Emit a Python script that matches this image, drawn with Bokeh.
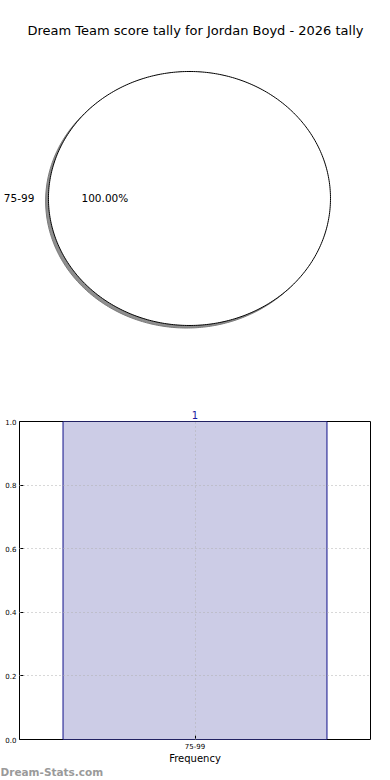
import numpy as np
from bokeh.plotting import figure
from bokeh.layouts import column
from bokeh.models import Range1d, FactorRange, Label, FixedTicker, CustomJSTickFormatter, Title
from bokeh.core.properties import value
from bokeh.embed import file_html
from bokeh.resources import INLINE

# ---- data ----
title_text = "Dream Team score tally for Jordan Boyd - 2026 tally"
categories = ["75-99"]
counts = [1]
y_ticks = [0.0, 0.2, 0.4, 0.6, 0.8, 1.0]
watermark = "Dream-Stats.com"
x_label = "Frequency"

FONT = "DejaVu Sans"

# ---- pie figure (top half) ----
pie = figure(width=390, height=390, output_backend="svg", toolbar_location=None,
             x_range=Range1d(-1.340, 1.4255), y_range=Range1d(-1.512, 1.559),
             min_border=0)
try:
    pie.frame_align = False
except Exception:
    pass
pie.axis.visible = False
pie.grid.visible = False
pie.outline_line_color = None
pie.background_fill_color = "white"
pie.border_fill_color = "white"

total = float(sum(counts))
fracs = [c / total for c in counts]
start = 0.0
for cat, fr in zip(categories, fracs):
    t0 = 2 * np.pi * start
    t1 = 2 * np.pi * (start + fr)
    th = np.linspace(t0, t1, 400)
    xs = list(np.cos(th))
    ys = list(np.sin(th))
    if fr < 1.0:
        xs = [0.0] + xs
        ys = [0.0] + ys
    # shadow
    pie.patch([x - 0.02 for x in xs], [y - 0.02 for y in ys],
              fill_color="#8f8f8f", line_color="#7a7a7a", line_width=1)
    pie.patch(xs, ys, fill_color="white", line_color="black", line_width=1)
    mid = (t0 + t1) / 2
    lx, ly = 1.1 * np.cos(mid), 1.1 * np.sin(mid)
    pie.text([lx], [ly], text=[cat], text_font_size="10.5px",
             text_align="right" if lx < 0 else "left", text_baseline="middle",
             text_font=value(FONT), text_color="black")
    px, py = 0.6 * np.cos(mid), 0.6 * np.sin(mid)
    pie.text([px], [py], text=["%.2f%%" % (fr * 100)], text_font_size="10.5px",
             text_align="center", text_baseline="middle", text_font=value(FONT),
             text_color="black")
    start += fr

pie.add_layout(Label(x=195, y=360, x_units="screen", y_units="screen",
                     text=title_text, text_font=FONT, text_font_size="13px",
                     text_align="center", text_baseline="middle", text_color="black"))

# ---- bar figure ----
bar = figure(width=390, height=376, output_backend="svg", toolbar_location=None,
             x_range=FactorRange(factors=categories, range_padding=0),
             y_range=Range1d(0, 1.0),
             min_border_left=19, min_border_right=20, min_border_top=31,
             min_border_bottom=26)
try:
    bar.frame_align = False
except Exception:
    pass
bar.background_fill_color = "white"
bar.border_fill_color = "white"
bar.outline_line_color = "black"
bar.outline_line_width = 1

bar.vbar(x=categories, top=counts, width=0.752, fill_color="#ccccE6",
         line_color="#10108a", line_width=1, level="underlay")

bar.yaxis.ticker = FixedTicker(ticks=y_ticks)
bar.yaxis.formatter = CustomJSTickFormatter(code="return tick.toFixed(1);")
for ax in (bar.xaxis, bar.yaxis):
    ax.axis_line_color = None
    ax.major_tick_in = 4
    ax.major_tick_out = 0
    ax.minor_tick_line_color = None
    ax.major_tick_line_color = "black"
    ax.major_label_text_font = FONT
    ax.major_label_text_font_size = "7px"
    ax.major_label_text_color = "black"
bar.yaxis.major_label_standoff = 3
bar.xaxis.major_label_standoff = 3
bar.xaxis.axis_label = x_label
bar.xaxis.axis_label_text_font = FONT
bar.xaxis.axis_label_text_font_size = "10px"
bar.xaxis.axis_label_text_font_style = "normal"
bar.xaxis.axis_label_text_color = "black"
bar.xaxis.axis_label_standoff = 1

for g in (bar.xgrid, bar.ygrid):
    g.grid_line_color = "#b0b0b0"
    g.grid_line_dash = "1 3"
    g.grid_line_width = 1
    g.level = "overlay"
bar.ygrid.ticker = FixedTicker(ticks=y_ticks)

# count label above the bar (outside frame -> title panel)
bar.add_layout(Title(text=" ".join(str(c) for c in counts), align="center",
                     text_font=FONT, text_font_size="10px", text_font_style="normal",
                     text_color="#1a1aa0", standoff=6, offset=-1), "above")

# ---- watermark strip ----
wm = figure(width=390, height=14, output_backend="svg", toolbar_location=None,
            x_range=Range1d(0, 1), y_range=Range1d(0, 1), min_border=0)
try:
    wm.frame_align = False
except Exception:
    pass
wm.axis.visible = False
wm.grid.visible = False
wm.outline_line_color = None
wm.background_fill_color = "white"
wm.border_fill_color = "white"
wm.add_layout(Label(x=0, y=9, x_units="screen", y_units="screen",
                    text=watermark, text_font=FONT, text_font_size="10.5px",
                    text_font_style="bold", text_align="left",
                    text_baseline="middle", text_color="#9a9a9a"))

layout = column(pie, bar, wm, spacing=0)
open("out.html", "w").write(file_html(layout, INLINE))
